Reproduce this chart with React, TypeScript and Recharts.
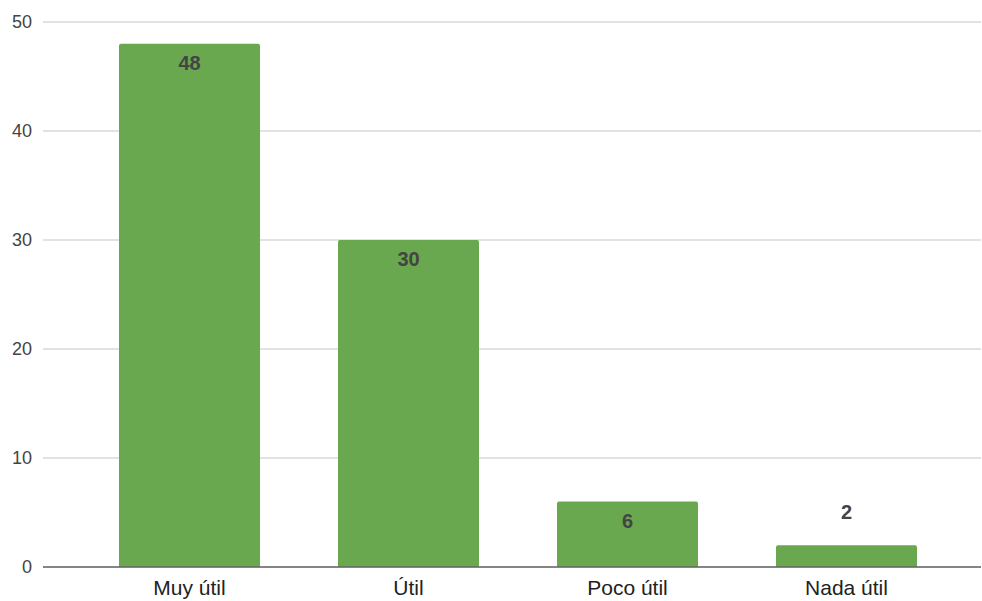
import React from "react";
import { BarChart, Bar, XAxis, YAxis, CartesianGrid, LabelList } from "recharts";

const categories = ["Muy útil", "Útil", "Poco útil", "Nada útil"];
const values = [48, 30, 6, 2];
const yTicks = [0, 10, 20, 30, 40, 50];

const data = categories.map((c, i) => ({ name: c, value: values[i] }));

const FONT = "'Liberation Sans', Arial, sans-serif";

const renderLabel = (props: any) => {
  const { x, y, width, height, value } = props;
  const inside = height > 40;
  const cy = inside ? y + 19 : y - 33;
  return (
    <text
      x={x + width / 2}
      y={cy}
      textAnchor="middle"
      dominantBaseline="central"
      fontFamily={FONT}
      fontSize={20}
      fontWeight="bold"
      fill="#444444"
    >
      {value}
    </text>
  );
};

export default function App() {
  return (
    <div style={{ position: "absolute", left: 0, top: 0, background: "#fff" }}>
      <BarChart
        width={982}
        height={601}
        data={data}
        margin={{ top: 22, right: 1, bottom: 0, left: 0 }}
      >
        <CartesianGrid vertical={false} stroke="#d9d9d9" strokeWidth={1.3} />
        <XAxis
          dataKey="name"
          height={34}
          padding={{ left: 37, right: 25 }}
          axisLine={{ stroke: "#666666", strokeWidth: 1.5 }}
          tickLine={false}
          tickSize={0}
          tickMargin={13}
          tick={{ fill: "#222222", fontSize: 21, fontFamily: FONT }}
          interval={0}
        />
        <YAxis
          width={43}
          domain={[0, 50]}
          ticks={yTicks}
          axisLine={false}
          tickLine={false}
          tickSize={0}
          tickMargin={11}
          tick={{ fill: "#444444", fontSize: 18, fontFamily: FONT }}
        />
        <Bar
          dataKey="value"
          fill="#6aa84f"
          barSize={141}
          radius={[2, 2, 0, 0]}
          isAnimationActive={false}
        >
          <LabelList dataKey="value" content={renderLabel} />
        </Bar>
      </BarChart>
    </div>
  );
}
